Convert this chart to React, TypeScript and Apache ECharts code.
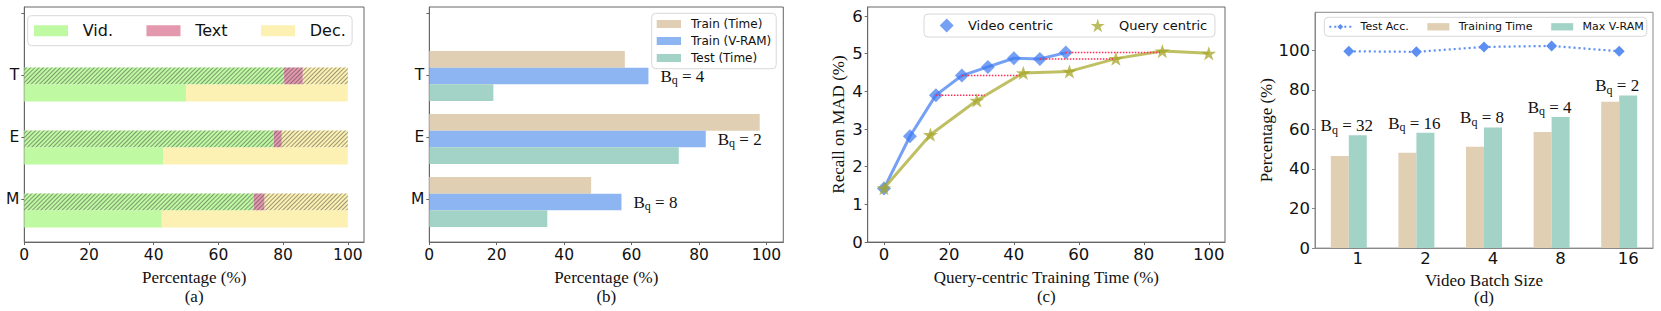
import React, { useEffect, useRef } from 'react';
import * as echarts from 'echarts';

// ---------- Panel (a) ----------
const aCats = ['M', 'E', 'T'];
const aHatVid = [70.9, 77.1, 80.3];
const aHatText = [3.4, 2.5, 5.8];
const aHatDec = [25.7, 20.4, 13.9];
const aSolVid = [42.5, 42.9, 50.0];
const aSolText = [0, 0, 0];
const aSolDec = [57.5, 57.1, 50.0];
const pctTicks = [0, 20, 40, 60, 80, 100];

// ---------- Panel (b) ----------
const bCats = ['M', 'E', 'T'];
const bTrainTime = [48, 98, 58];
const bTrainVram = [57, 82, 65];
const bTestTime = [35, 74, 19];
const bBq = [8, 2, 4];

// ---------- Panel (c) ----------
const videoX = [0, 8, 16, 24, 32, 40, 48, 56];
const videoY = [1.42, 2.81, 3.9, 4.42, 4.65, 4.88, 4.86, 5.03];
const queryX = [0, 14.3, 28.6, 42.9, 57.1, 71.4, 85.7, 100];
const queryY = [1.43, 2.85, 3.76, 4.49, 4.53, 4.87, 5.07, 5.01];
const gapStartIdx = [2, 3, 6, 7];
const gapEndX = [31, 41.8, 70.5, 85];
const cTicksY = [0, 1, 2, 3, 4, 5, 6];

// ---------- Panel (d) ----------
const dCats = ['1', '2', '4', '8', '16'];
const dTrainTime = [46.5, 48.2, 51.2, 58.7, 74.0];
const dMaxVram = [57.0, 58.3, 61.0, 66.3, 77.2];
const dTestAcc = [99.5, 99.2, 101.7, 102.2, 99.5];
const dBq = [32, 16, 8, 4, 2];
const dTicksY = [0, 20, 40, 60, 80, 100];

const SANS = 'DejaVu Sans';
const SERIF = 'Liberation Serif';
const AX = '#666';
const TXT = '#111';

const VID = '#bff9a2';
const TEXTC = '#e398ad';
const DEC = '#fcf1b3';
const TAN = '#e0cfb3';
const BLUE = '#8db5f2';
const TEAL = '#a3d2c6';

const STAR =
  'path://M0,-10L2.245,-3.09L9.51,-3.09L3.633,1.18L5.88,8.09L0,3.82L-5.88,8.09L-3.633,1.18L-9.51,-3.09L-2.245,-3.09Z';

const HATCH = {
  symbol: 'rect',
  symbolSize: 1,
  dashArrayX: [1, 0],
  dashArrayY: [1, 1.3],
  rotation: -Math.PI / 4,
  color: 'rgba(60,60,60,0.5)',
};

const bqRich = {
  b: { fontFamily: SERIF, fontSize: 17, color: TXT },
  q: { fontFamily: SERIF, fontSize: 12, lineHeight: 12, padding: [8, 0, 0, 0], color: TXT },
};
const bqText = (v: number) => `{b|B}{q|q}{b| = ${v}}`;

const tickLabel = (size: number, margin: number) => ({
  fontFamily: SANS,
  fontSize: size,
  color: TXT,
  margin,
});

const hidden = { show: false };

function buildOption() {
  const grids = [
    { left: 24.3, top: 7, width: 339.7, height: 239, show: true, borderColor: AX, borderWidth: 1 },
    { left: 24.3, top: 53, width: 339.7, height: 189 },
    { left: 429.3, top: 7, width: 354, height: 239, show: true, borderColor: AX, borderWidth: 1 },
    { left: 429.3, top: 44.5, width: 354, height: 189 },
    { left: 867.7, top: 7, width: 357.3, height: 239, show: true, borderColor: AX, borderWidth: 1 },
    { left: 1315, top: 12.3, width: 338, height: 238.7, show: true, borderColor: '#888', borderWidth: 1 },
  ];

  const line = (c: string) => ({ show: true, onZero: false, lineStyle: { color: c } });

  const pctXAxis = (gridIndex: number, caption: string) => ({
    gridIndex,
    type: 'value',
    min: 0,
    max: 105,
    axisLine: line(AX),
    axisTick: { show: true, length: 3, customValues: pctTicks, lineStyle: { color: AX } },
    axisLabel: { ...tickLabel(15.5, 5), customValues: pctTicks },
    splitLine: hidden,
    name: 'Percentage (%)\n' + caption,
    nameLocation: 'middle',
    nameGap: 21.5,
    nameTextStyle: { fontFamily: SERIF, fontSize: 17, lineHeight: 19, color: TXT },
  });
  const catYFrame = (gridIndex: number, cats: string[]) => ({
    gridIndex,
    type: 'value',
    min: -0.698,
    max: 3.095,
    axisLine: line(AX),
    axisTick: { show: true, length: 3, customValues: [0, 1, 2, 3], lineStyle: { color: AX } },
    axisLabel: {
      ...tickLabel(15.5, 5),
      customValues: [0, 1, 2],
      formatter: (v: number) => cats[Math.round(v)] ?? '',
    },
    splitLine: hidden,
  });

  const xAxis: any[] = [
    pctXAxis(0, '(a)'),
    { gridIndex: 1, type: 'value', min: 0, max: 105, show: false },
    pctXAxis(2, '(b)'),
    { gridIndex: 3, type: 'value', min: 0, max: 105, show: false },
    {
      gridIndex: 4,
      type: 'value',
      min: -5,
      max: 105,
      axisLine: line(AX),
      axisTick: { show: true, length: 3, customValues: pctTicks, lineStyle: { color: AX } },
      axisLabel: { ...tickLabel(16.5, 4), customValues: pctTicks },
      splitLine: hidden,
      name: 'Query-centric Training Time (%)\n(c)',
      nameLocation: 'middle',
      nameGap: 21.8,
      nameTextStyle: { fontFamily: SERIF, fontSize: 17, lineHeight: 19, color: TXT },
    },
    {
      gridIndex: 5,
      type: 'category',
      data: dCats,
      axisLine: line('#888'),
      axisTick: hidden,
      axisLabel: { ...tickLabel(16.5, 2), padding: [0, 0, 0, 18] },
      name: 'Video Batch Size\n(d)',
      nameLocation: 'middle',
      nameGap: 22,
      nameTextStyle: { fontFamily: SERIF, fontSize: 17, lineHeight: 17, color: TXT },
    },
  ];

  const yAxis: any[] = [
    catYFrame(0, aCats),
    { gridIndex: 1, type: 'category', data: aCats, show: false },
    catYFrame(2, bCats),
    { gridIndex: 3, type: 'category', data: bCats, show: false },
    {
      gridIndex: 4,
      type: 'value',
      min: 0,
      max: 6.24,
      axisLine: line(AX),
      axisTick: { show: true, length: 3, customValues: cTicksY, lineStyle: { color: AX } },
      axisLabel: { ...tickLabel(16.5, 5), customValues: cTicksY },
      splitLine: hidden,
      name: 'Recall on MAD (%)',
      nameLocation: 'middle',
      nameGap: 21,
      nameTextStyle: { fontFamily: SERIF, fontSize: 17, color: TXT },
    },
    {
      gridIndex: 5,
      type: 'value',
      min: 0,
      max: 119.2,
      axisLine: line('#888'),
      axisTick: { show: true, length: 3, customValues: dTicksY, lineStyle: { color: '#888' } },
      axisLabel: { ...tickLabel(16.5, 5), customValues: dTicksY },
      splitLine: hidden,
      name: 'Percentage (%)',
      nameLocation: 'middle',
      nameGap: 33,
      nameTextStyle: { fontFamily: SERIF, fontSize: 17, color: TXT },
    },
  ];

  const aBar = (name: string, data: number[], color: string, stack: string, hatched: boolean) => ({
    type: 'bar',
    name,
    xAxisIndex: 1,
    yAxisIndex: 1,
    stack,
    data,
    barWidth: 17,
    barGap: '0%',
    itemStyle: hatched ? { color, decal: HATCH } : { color },
  });

  const series: any[] = [
    aBar('Vid. hatched', aHatVid, VID, 'hat', true),
    aBar('Text hatched', aHatText, TEXTC, 'hat', true),
    aBar('Dec. hatched', aHatDec, DEC, 'hat', true),
    aBar('Vid.', aSolVid, VID, 'sol', false),
    aBar('Text', aSolText, TEXTC, 'sol', false),
    aBar('Dec.', aSolDec, DEC, 'sol', false),

    { type: 'bar', name: 'Train (Time)', xAxisIndex: 3, yAxisIndex: 3, data: bTrainTime, barWidth: 16.7, barGap: '0%', itemStyle: { color: TAN } },
    {
      type: 'bar', name: 'Train (V-RAM)', xAxisIndex: 3, yAxisIndex: 3, data: bTrainVram, barWidth: 16.7, barGap: '0%', itemStyle: { color: BLUE },
      label: { show: true, position: 'right', distance: 12, formatter: (p: any) => bqText(bBq[p.dataIndex]), rich: bqRich },
    },
    { type: 'bar', name: 'Test (Time)', xAxisIndex: 3, yAxisIndex: 3, data: bTestTime, barWidth: 16.7, barGap: '0%', itemStyle: { color: TEAL } },

    ...gapStartIdx.map((idx, i) => ({
      type: 'line',
      name: 'gap' + i,
      xAxisIndex: 4,
      yAxisIndex: 4,
      data: [[videoX[idx], videoY[idx]], [gapEndX[i], videoY[idx]]],
      symbol: 'none',
      silent: true,
      z: 5,
      lineStyle: { color: '#ff2a55', width: 1.5, type: [1.5, 1.5] },
    })),
    {
      type: 'line',
      name: 'Video centric',
      xAxisIndex: 4,
      yAxisIndex: 4,
      data: videoX.map((x, i) => [x, videoY[i]]),
      symbol: 'diamond',
      symbolSize: 14,
      lineStyle: { color: 'rgba(70,130,240,0.75)', width: 3 },
      itemStyle: { color: 'rgba(60,120,240,0.7)' },
      z: 3,
    },
    {
      type: 'line',
      name: 'Query centric',
      xAxisIndex: 4,
      yAxisIndex: 4,
      data: queryX.map((x, i) => [x, queryY[i]]),
      symbol: STAR,
      symbolSize: 15,
      symbolKeepAspect: true,
      lineStyle: { color: 'rgba(175,175,60,0.8)', width: 3 },
      itemStyle: { color: 'rgba(165,165,40,0.75)' },
      z: 4,
    },

    { type: 'bar', name: 'Training Time', xAxisIndex: 5, yAxisIndex: 5, data: dTrainTime, barWidth: 18, barGap: '0%', itemStyle: { color: TAN } },
    {
      type: 'bar', name: 'Max V-RAM', xAxisIndex: 5, yAxisIndex: 5, data: dMaxVram, barWidth: 18, barGap: '0%', itemStyle: { color: TEAL },
      label: { show: true, position: 'top', distance: 1, offset: [-11, 0], formatter: (p: any) => bqText(dBq[p.dataIndex]), rich: bqRich },
    },
    {
      type: 'line',
      name: 'Test Acc.',
      xAxisIndex: 5,
      yAxisIndex: 5,
      data: dTestAcc,
      symbol: 'diamond',
      symbolSize: 11,
      lineStyle: { color: '#5d8ff2', width: 2.2, type: [2, 3] },
      itemStyle: { color: '#5d8ff2' },
      z: 5,
    },
  ];

  const legendBase = {
    backgroundColor: 'rgba(255,255,255,0.85)',
    borderColor: '#d8d8d8',
    borderWidth: 1,
    borderRadius: 4,
    selectedMode: false,
  };

  const legend: any[] = [
    {
      ...legendBase,
      data: ['Vid.', 'Text', 'Dec.'],
      left: 27.7,
      top: 15.7,
      padding: [7, 6.3, 7, 6.3],
      icon: 'rect',
      itemWidth: 34,
      itemHeight: 11,
      itemGap: 33.5,
      textStyle: { fontFamily: SANS, fontSize: 16, color: TXT, padding: [0, 0, 0, 9.7] },
    },
    {
      ...legendBase,
      data: ['Train (Time)', 'Train (V-RAM)', 'Test (Time)'],
      orient: 'vertical',
      left: 651.7,
      top: 13.3,
      padding: [4.7, 5, 4.7, 5],
      icon: 'rect',
      itemWidth: 24.3,
      itemHeight: 8,
      itemGap: 5,
      textStyle: { fontFamily: SANS, fontSize: 12, color: TXT, padding: [0, 0, 0, 5] },
    },
    {
      ...legendBase,
      data: [
        { name: 'Video centric', icon: 'diamond' },
        { name: 'Query centric', icon: STAR },
      ],
      left: 924,
      top: 14,
      padding: [4.5, 7.7, 4.5, 15.7],
      itemWidth: 14,
      itemHeight: 14,
      itemGap: 37.6,
      symbolKeepAspect: true,
      textStyle: { fontFamily: SANS, fontSize: 13, color: TXT, padding: [0, 0, 0, 9.3] },
    },
    {
      ...legendBase,
      data: ['Test Acc.', { name: 'Training Time', icon: 'rect' }, { name: 'Max V-RAM', icon: 'rect' }],
      left: 1324.3,
      top: 17.3,
      padding: [4, 3, 4, 4],
      itemWidth: 22,
      itemHeight: 7.3,
      itemGap: 18.7,
      textStyle: { fontFamily: SANS, fontSize: 11, color: TXT, padding: [0, 0, 0, 4.3] },
    },
  ];

  return {
    animation: false,
    backgroundColor: '#fff',
    textStyle: { fontFamily: SANS },
    grid: grids,
    xAxis,
    yAxis,
    legend,
    series,
  };
}

export default function App() {
  const ref = useRef<HTMLDivElement>(null);
  useEffect(() => {
    if (!ref.current) return;
    const chart = echarts.init(ref.current, null, { renderer: 'svg' });
    chart.setOption(buildOption() as any);
    return () => chart.dispose();
  }, []);
  return (
    <div
      ref={ref}
      style={{ position: 'fixed', left: 0, top: 0, width: 1661, height: 311, background: '#fff' }}
    />
  );
}
